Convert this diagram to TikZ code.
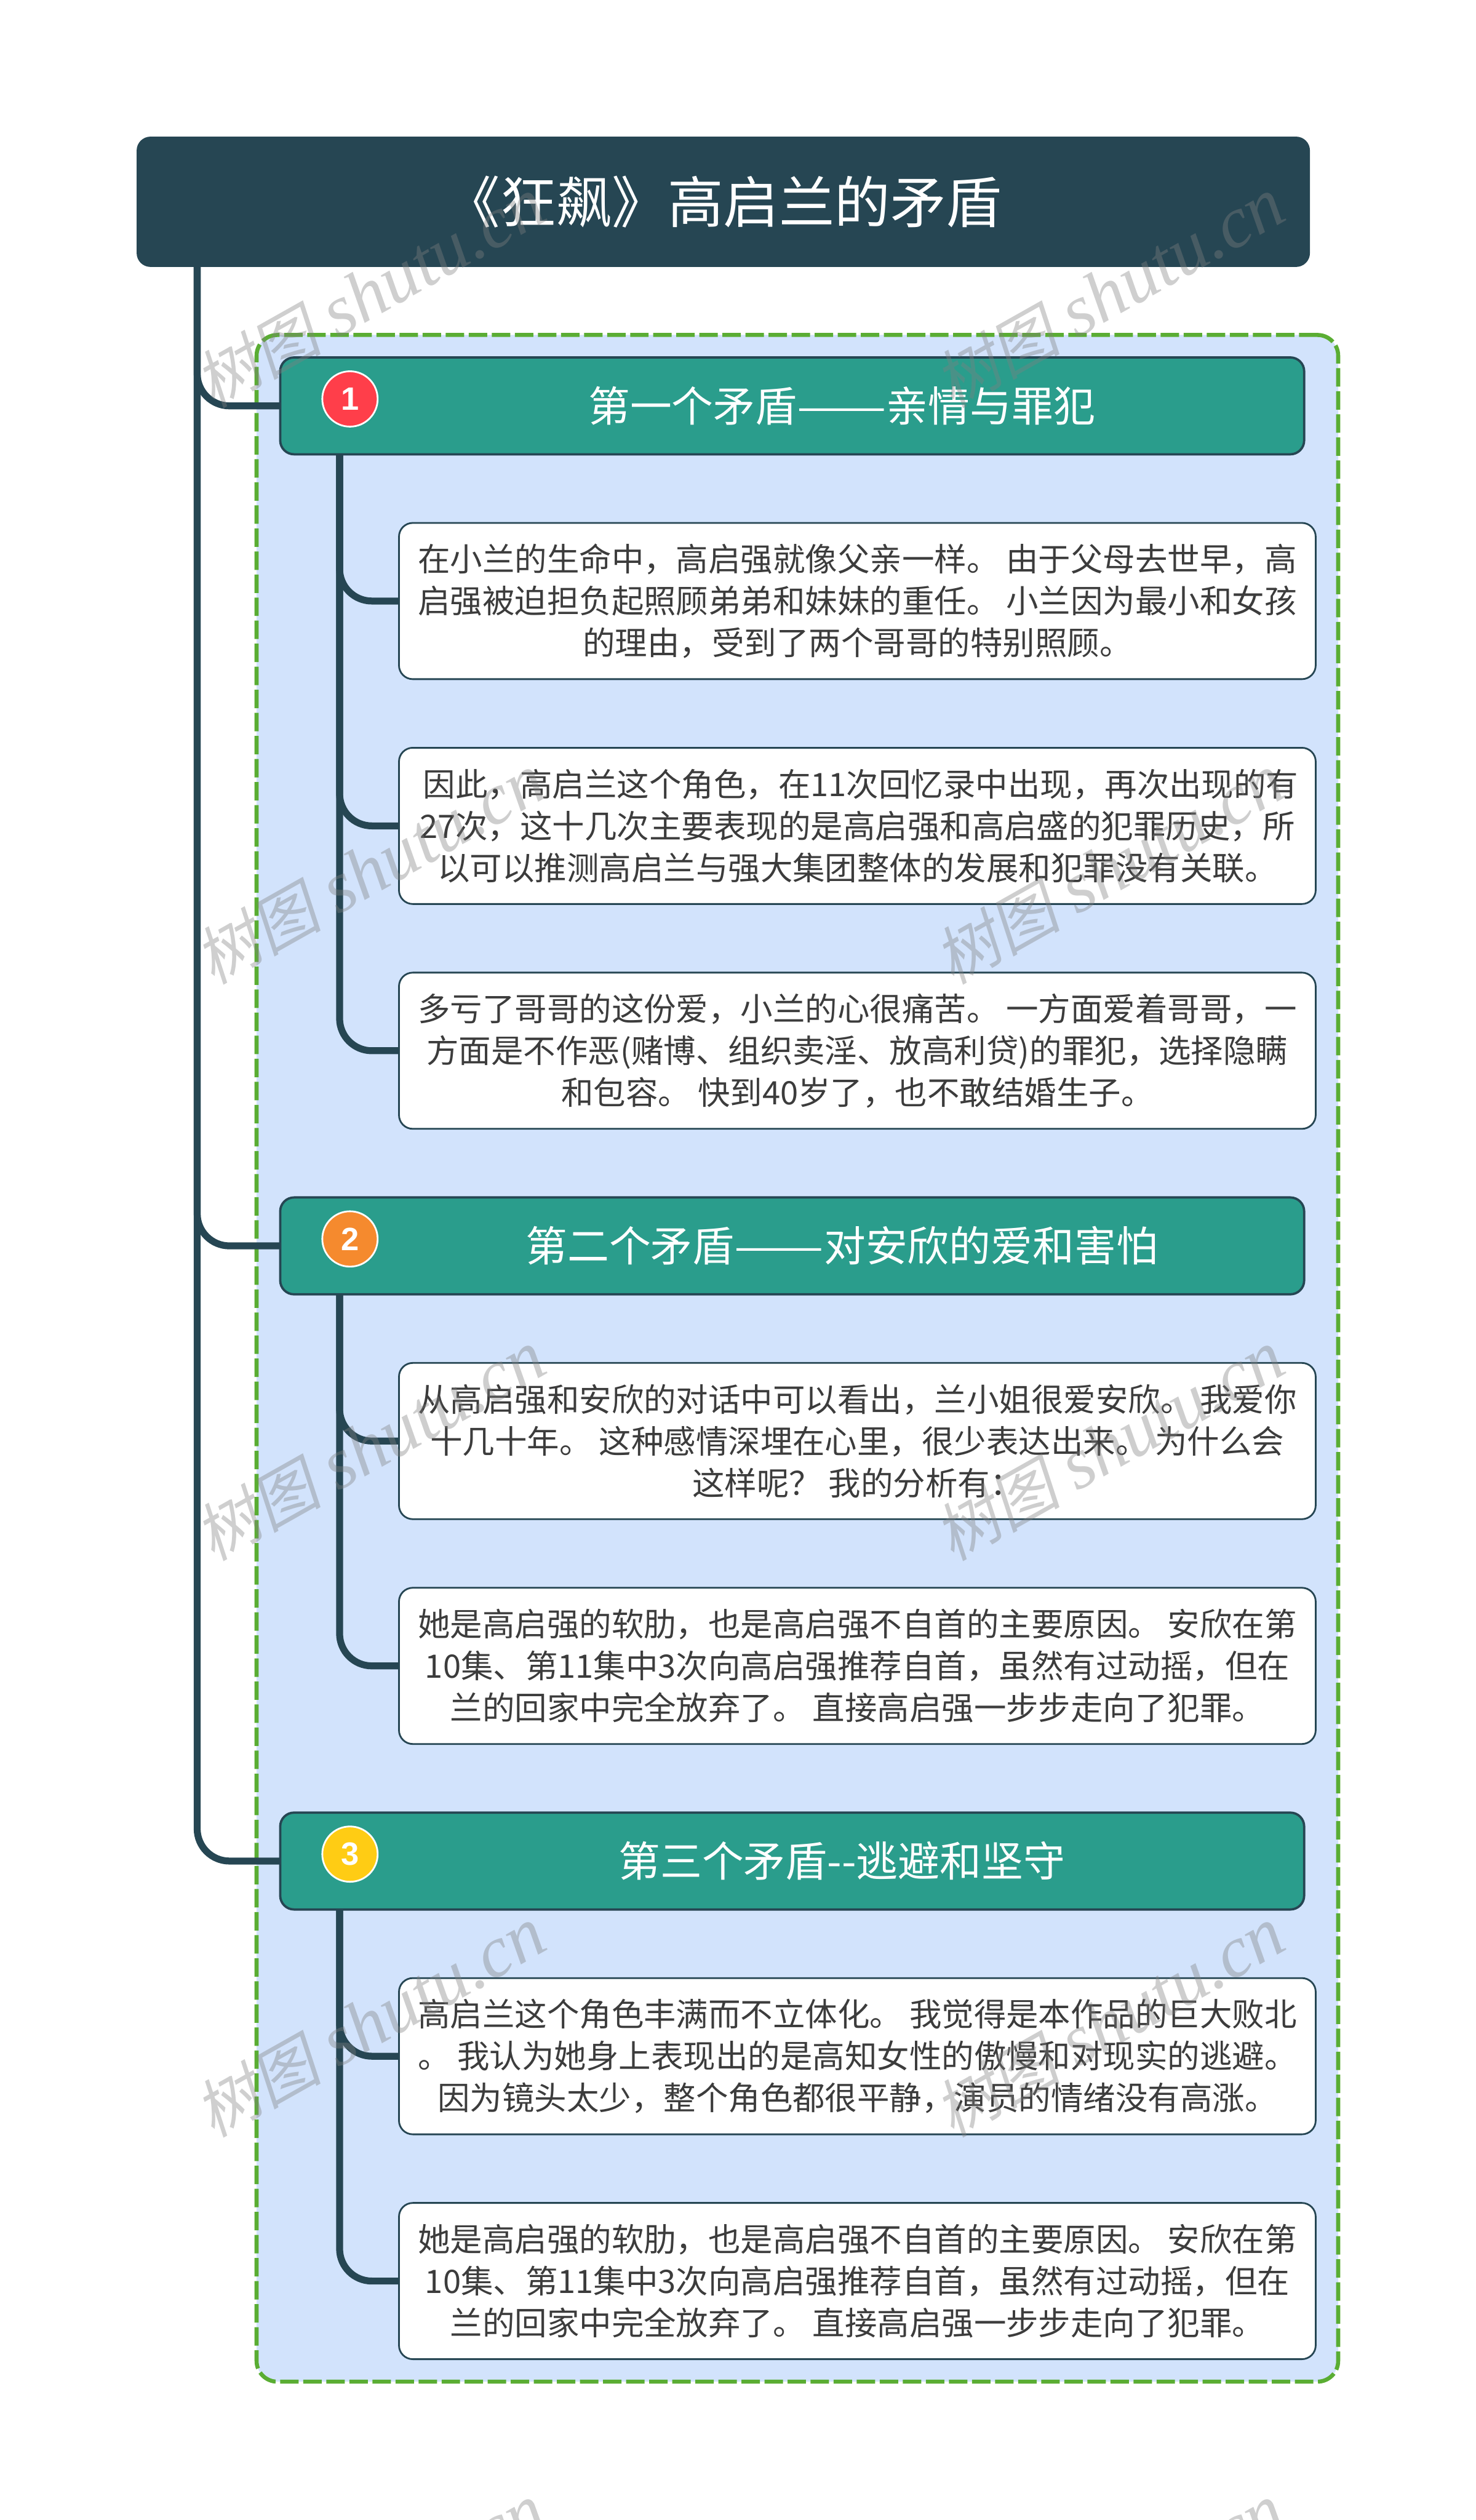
\documentclass[tikz,border=0pt]{standalone}
\usepackage{fontspec}
\usepackage{graphicx}
\setmainfont{Noto Sans CJK SC}
\newfontfamily\stampcjk[FakeSlant=0.2]{Noto Sans CJK SC}
\newfontfamily\stamplatin{Liberation Serif}
\newfontfamily\iconfont{Liberation Sans}
\usetikzlibrary{positioning}
\definecolor{rootblue}{HTML}{264653}
\definecolor{branchgreen}{HTML}{2A9D8C}
\definecolor{panelblue}{HTML}{D2E3FC}
\definecolor{panelgreen}{HTML}{5AAD33}
\definecolor{bodygray}{HTML}{3C3C3C}
\definecolor{iconred}{HTML}{FF3E4A}
\definecolor{iconorange}{HTML}{F58A2E}
\definecolor{iconyellow}{HTML}{FFCC14}
\tikzset{
node distance=59.5pt, % gap between the boxes of one column
every node/.style={outer sep=0pt, inner sep=0pt},
root/.style={rectangle, rounded corners=12pt, fill=rootblue, text=white, minimum width=1017.5pt, minimum height=113pt, font=\fontsize{48.3}{56}\selectfont},
panel/.style={rectangle, rounded corners=18pt, draw=panelgreen, fill=panelblue, line width=3.5pt, dash pattern=on 16pt off 4pt, minimum width=938pt, minimum height=1775pt},
branch/.style={rectangle, rounded corners=12pt, draw=rootblue, line width=2pt, fill=branchgreen, text=white, minimum width=888pt, minimum height=84pt, font=\fontsize{36.2}{44}\selectfont},
leaf/.style={rectangle, rounded corners=12pt, draw=rootblue, line width=1.5pt, fill=white, text=bodygray, align=center, minimum width=795pt, minimum height=135.5pt, execute at begin node=\rule{0pt}{28pt}, font=\fontsize{28}{36.25}\selectfont},
icon/.style={circle, draw=white, line width=1.5pt, minimum size=48pt, text=white, font=\iconfont\bfseries\fontsize{28}{28}\selectfont},
link/.style={draw=rootblue, line width=6pt, rounded corners=28pt},
stamp/.style={rotate=29.4, text=gray, opacity=0.38, font=\fontsize{63}{63}\selectfont},
}
\newcommand{\stamptext}{{\stampcjk\fontsize{55}{63}\selectfont 树图} {\stamplatin\itshape shutu.cn}}
\newcommand{\widedash}{\scalebox{1.28}[1]{——}}
\begin{document}
\begin{tikzpicture}
        \useasboundingbox (0,0) rectangle (1280pt,-2185.5pt);
        \node[root, anchor=north west] (root) at (118.5pt,-118.5pt) {《狂飙》高启兰的矛盾};
        \node[panel, below right=59pt and 104pt of root.south west] (panel) {};

        \node[branch, below right=19.5pt and 20.5pt of panel.north west] (first) {\hspace*{86pt}第一个矛盾\widedash 亲情与罪犯};
        \node[icon, fill=iconred] (firsticon) at ([xshift=60.5pt,yshift=6pt]first.west) {1};
        \node[leaf, below=of first, xshift=56.5pt] (firsta) {在小兰的生命中，高启强就像父亲一样。 由于父母去世早，高\\启强被迫担负起照顾弟弟和妹妹的重任。 小兰因为最小和女孩\\的理由，受到了两个哥哥的特别照顾。};
        \node[leaf, below=of firsta] (firstb) {\hspace*{6pt}因此，高启兰这个角色，在11次回忆录中出现，再次出现的有\\27次，这十几次主要表现的是高启强和高启盛的犯罪历史，所\\以可以推测高启兰与强大集团整体的发展和犯罪没有关联。};
        \node[leaf, below=of firstb] (firstc) {多亏了哥哥的这份爱，小兰的心很痛苦。 一方面爱着哥哥，一\\方面是不作恶(赌博、组织卖淫、放高利贷)的罪犯，选择隐瞒\\和包容。 快到40岁了，也不敢结婚生子。};

        \node[branch, below=of firstc, xshift=-56.5pt] (second) {\hspace*{86pt}第二个矛盾\widedash 对安欣的爱和害怕};
        \node[icon, fill=iconorange] (secondicon) at ([xshift=60.5pt,yshift=6pt]second.west) {2};
        \node[leaf, below=of second, xshift=56.5pt] (seconda) {从高启强和安欣的对话中可以看出，兰小姐很爱安欣。 我爱你\\十几十年。 这种感情深埋在心里，很少表达出来。 为什么会\\这样呢？ 我的分析有：};
        \node[leaf, below=of seconda] (secondb) {她是高启强的软肋，也是高启强不自首的主要原因。 安欣在第\\10集、第11集中3次向高启强推荐自首，虽然有过动摇，但在\\兰的回家中完全放弃了。 直接高启强一步步走向了犯罪。};

        \node[branch, below=of secondb, xshift=-56.5pt] (third) {\hspace*{86pt}第三个矛盾-{}-逃避和坚守};
        \node[icon, fill=iconyellow] (thirdicon) at ([xshift=60.5pt,yshift=6pt]third.west) {3};
        \node[leaf, below=of third, xshift=56.5pt] (thirda) {高启兰这个角色丰满而不立体化。 我觉得是本作品的巨大败北\\。 我认为她身上表现出的是高知女性的傲慢和对现实的逃避。\\因为镜头太少，整个角色都很平静，演员的情绪没有高涨。};
        \node[leaf, below=of thirda] (thirdb) {她是高启强的软肋，也是高启强不自首的主要原因。 安欣在第\\10集、第11集中3次向高启强推荐自首，虽然有过动摇，但在\\兰的回家中完全放弃了。 直接高启强一步步走向了犯罪。};

        \coordinate (roottrunk) at ([xshift=52.5pt]root.south west);
        \coordinate (firststem) at ([xshift=51.5pt]first.south west);
        \coordinate (secondstem) at ([xshift=51.5pt]second.south west);
        \coordinate (thirdstem) at ([xshift=51.5pt]third.south west);
        \draw[link] (roottrunk) |- (first.west);
        \draw[link] (roottrunk) |- (second.west);
        \draw[link] (roottrunk) |- (third.west);
        \draw[link] (firststem) |- (firsta.west);
        \draw[link] (firststem) |- (firstb.west);
        \draw[link] (firststem) |- (firstc.west);
        \draw[link] (secondstem) |- (seconda.west);
        \draw[link] (secondstem) |- (secondb.west);
        \draw[link] (thirdstem) |- (thirda.west);
        \draw[link] (thirdstem) |- (thirdb.west);

        \node[stamp] (stampa) at (321pt,-254pt) {\stamptext};
        \node[stamp] (stampb) at (962pt,-254pt) {\stamptext};
        \node[stamp] (stampc) at (321pt,-754pt) {\stamptext};
        \node[stamp] (stampd) at (962pt,-754pt) {\stamptext};
        \node[stamp] (stampe) at (321pt,-1254pt) {\stamptext};
        \node[stamp] (stampf) at (962pt,-1254pt) {\stamptext};
        \node[stamp] (stampg) at (321pt,-1754pt) {\stamptext};
        \node[stamp] (stamph) at (962pt,-1754pt) {\stamptext};
        \node[stamp] (stampi) at (321pt,-2254pt) {\stamptext};
        \node[stamp] (stampj) at (962pt,-2254pt) {\stamptext};
\end{tikzpicture}
\end{document}
